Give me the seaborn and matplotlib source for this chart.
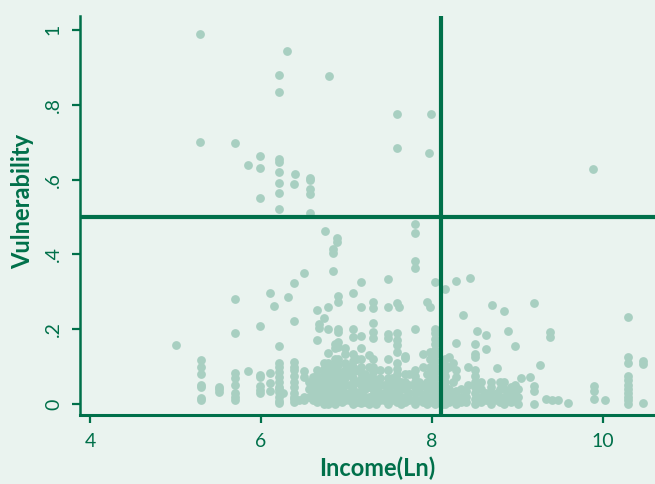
import matplotlib
matplotlib.use("Agg")
from matplotlib import pyplot
import seaborn
import pandas as pd

# scattered points (mostly the upper part of the cloud)
pt_income = [5.29, 6.30, 6.21, 6.21, 6.80, 7.59, 7.99, 7.59, 7.96, 5.29,
             5.70, 5.99, 5.85, 5.99, 6.21, 6.21, 6.40, 6.39, 6.21, 6.21,
             6.57, 6.57, 6.57, 6.57, 5.99, 6.21, 6.21, 6.57, 6.75, 6.89,
             6.89, 6.84, 6.84, 6.84, 6.50, 7.80, 7.80, 7.80, 7.80, 9.88,
             6.32, 6.11, 6.15, 5.70, 5.70, 5.99, 6.39, 6.39, 5.01, 8.44,
             8.28, 8.36, 8.53, 8.70, 8.84, 9.19, 8.89, 8.97, 9.26, 9.04,
             9.15, 7.61, 6.65, 6.68, 6.68, 6.74, 6.78, 7.17, 7.08, 7.94]
pt_vuln = [0.99, 0.944, 0.88, 0.834, 0.877, 0.775, 0.775, 0.684, 0.671, 0.70,
           0.698, 0.663, 0.639, 0.631, 0.655, 0.647, 0.615, 0.588, 0.62, 0.59,
           0.604, 0.599, 0.575, 0.561, 0.551, 0.564, 0.521, 0.51, 0.463, 0.444,
           0.433, 0.414, 0.404, 0.356, 0.35, 0.481, 0.457, 0.382, 0.364, 0.628,
           0.286, 0.297, 0.262, 0.281, 0.19, 0.209, 0.323, 0.222, 0.158, 0.337,
           0.329, 0.238, 0.195, 0.265, 0.249, 0.27, 0.195, 0.155, 0.104, 0.069,
           0.072, 0.259, 0.251, 0.214, 0.203, 0.23, 0.259, 0.326, 0.297, 0.273]

# vertical stacks of points at discrete income levels
col_income = [5.30, 5.51, 5.70, 5.85, 5.99, 6.11, 6.21, 6.26, 6.39, 6.45,
              6.50, 6.56, 6.61, 6.65, 6.68, 6.74, 6.78, 6.84, 6.87, 6.90,
              6.95, 6.98, 7.03, 7.08, 7.12, 7.17, 7.22, 7.26, 7.31, 7.35,
              7.39, 7.44, 7.49, 7.53, 7.59, 7.64, 7.68, 7.73, 7.80, 7.85,
              7.89, 7.94, 7.98, 8.03, 8.12, 8.15, 8.20, 8.25, 8.28, 8.34,
              8.40, 8.42, 8.50, 8.57, 8.63, 8.69, 8.76, 8.79, 8.84, 8.89,
              8.92, 8.97, 9.01, 9.19, 9.33, 9.38, 9.40, 9.47, 9.59, 9.89,
              10.02, 10.29, 10.47]
col_vuln = [
    [0.118, 0.099, 0.080, 0.051, 0.045, 0.016, 0.011],
    [0.045, 0.04, 0.032],
    [0.083, 0.07, 0.051, 0.029, 0.02, 0.011],
    [0.088],
    [0.078, 0.072, 0.048, 0.037, 0.029],
    [0.083, 0.056, 0.035],
    [0.155, 0.11, 0.1, 0.086, 0.072, 0.059, 0.045, 0.04, 0.032, 0.019, 0.008, 0.003],
    [0.029],
    [0.112, 0.1, 0.09, 0.075, 0.06, 0.045, 0.03, 0.02, 0.015, 0.005],
    [0.011],
    [0.088, 0.072, 0.02, 0.01],
    [0.06, 0.04, 0.02],
    [0.072, 0.05, 0.03, 0.01],
    [0.171, 0.09, 0.075, 0.058, 0.04, 0.022, 0.005],
    [0.06, 0.045, 0.03, 0.012],
    [0.11, 0.095, 0.08, 0.065, 0.048, 0.03, 0.014, 0.0],
    [0.2, 0.136, 0.11, 0.094, 0.078, 0.062, 0.046, 0.03, 0.014, 0.0],
    [0.098, 0.08, 0.06, 0.04, 0.02, 0.005],
    [0.16, 0.15, 0.12, 0.105, 0.09, 0.075, 0.06, 0.045, 0.03, 0.015, 0.0],
    [0.289, 0.273, 0.2, 0.193, 0.167, 0.154, 0.12, 0.104, 0.088, 0.072, 0.056, 0.04, 0.024, 0.008],
    [0.08, 0.06, 0.04, 0.02, 0.005],
    [0.15, 0.135, 0.11, 0.09, 0.07, 0.05, 0.03, 0.012],
    [0.1, 0.08, 0.05, 0.03, 0.01],
    [0.2, 0.18, 0.135, 0.115, 0.1, 0.085, 0.07, 0.055, 0.04, 0.025, 0.01, 0.0],
    [0.12, 0.09, 0.06, 0.03, 0.005],
    [0.259, 0.183, 0.15, 0.12, 0.1, 0.084, 0.068, 0.052, 0.036, 0.02, 0.004],
    [0.08, 0.06, 0.04, 0.02, 0.005],
    [0.13, 0.1, 0.07, 0.045, 0.02, 0.0],
    [0.273, 0.257, 0.217, 0.193, 0.176, 0.12, 0.1, 0.085, 0.07, 0.055, 0.04, 0.025, 0.01],
    [0.06, 0.04, 0.02, 0.0],
    [0.09, 0.07, 0.05, 0.03, 0.01],
    [0.05, 0.03, 0.01],
    [0.334, 0.259, 0.187, 0.176, 0.12, 0.09, 0.07, 0.055, 0.04, 0.025, 0.01, 0.0],
    [0.07, 0.05, 0.03, 0.012],
    [0.27, 0.19, 0.171, 0.158, 0.139, 0.11, 0.095, 0.08, 0.065, 0.05, 0.035, 0.02, 0.005],
    [0.06, 0.04, 0.02, 0.0],
    [0.128, 0.122, 0.08, 0.06, 0.04, 0.02, 0.005],
    [0.08, 0.05, 0.03, 0.01],
    [0.2, 0.09, 0.075, 0.06, 0.045, 0.03, 0.015, 0.0],
    [0.06, 0.035, 0.01],
    [0.134, 0.1, 0.05, 0.025, 0.005],
    [0.08, 0.06, 0.04, 0.02, 0.0],
    [0.259, 0.14, 0.12, 0.1, 0.08, 0.06, 0.04, 0.02, 0.005],
    [0.326, 0.2, 0.19, 0.175, 0.16, 0.145, 0.13, 0.115, 0.1, 0.085, 0.07, 0.055, 0.04, 0.025, 0.01, 0.0],
    [0.09, 0.07, 0.05, 0.03, 0.015, 0.0],
    [0.307, 0.12, 0.105, 0.09, 0.075, 0.06, 0.045, 0.03, 0.015, 0.0],
    [0.125, 0.1, 0.04, 0.02, 0.005],
    [0.11, 0.06, 0.03, 0.01],
    [0.163, 0.09, 0.072, 0.035, 0.015, 0.0],
    [0.04, 0.02, 0.005],
    [0.035, 0.02, 0.005],
    [0.1, 0.05],
    [0.16, 0.134, 0.126, 0.09, 0.075, 0.06, 0.045, 0.03, 0.015, 0.0],
    [0.06, 0.04, 0.02, 0.005],
    [0.185, 0.147, 0.03, 0.01],
    [0.06, 0.045, 0.03, 0.015, 0.0],
    [0.096, 0.03, 0.01],
    [0.06, 0.04, 0.02, 0.005],
    [0.06, 0.04, 0.02, 0.0],
    [0.03, 0.01],
    [0.045, 0.025, 0.005],
    [0.05, 0.03, 0.01],
    [0.04, 0.02, 0.0],
    [0.048, 0.035, 0.0],
    [0.015],
    [0.193, 0.179],
    [0.01],
    [0.01],
    [0.003],
    [0.048, 0.035, 0.013],
    [0.011],
    [0.233, 0.126, 0.109, 0.075, 0.065, 0.05, 0.04, 0.03, 0.02, 0.01, 0.0],
    [0.115, 0.107, 0.003],
]

income_cut = 8.1
vuln_cut = 0.5

y_ticks = [0, 0.2, 0.4, 0.6, 0.8, 1]
y_ticklabels = ["0", ".2", ".4", ".6", ".8", "1"]
x_ticks = [4, 6, 8, 10]

# build the table
xs = list(pt_income)
ys = list(pt_vuln)
for x, col in zip(col_income, col_vuln):
    for y in col:
        xs.append(x)
        ys.append(y)
df = pd.DataFrame({"income": xs, "vulnerability": ys})

green = "#00704a"
bg = "#eaf3ef"
dots = "#a8cfc1"

seaborn.set_style("ticks", {"axes.facecolor": bg, "figure.facecolor": bg})
pyplot.rcParams["font.family"] = ["Lato", "DejaVu Sans"]

fig = pyplot.figure(figsize=(6.55, 4.84), dpi=100)
ax = fig.add_axes([80 / 655, 69 / 484, 575 / 655, 399 / 484])

seaborn.scatterplot(data=df, x="income", y="vulnerability", ax=ax,
                    color=dots, s=40, linewidth=0, alpha=1, zorder=2)

ax.axvline(income_cut, color=green, linewidth=3, zorder=3)
ax.axhline(vuln_cut, color=green, linewidth=3, zorder=3)

ax.set_xlim(3.883, 10.608)
ax.set_ylim(-0.029, 1.037)
ax.set_xticks(x_ticks)
ax.set_yticks(y_ticks)
ax.set_yticklabels(y_ticklabels, rotation=90, va="center")

for side in ["top", "right"]:
    ax.spines[side].set_visible(False)
ax.spines["left"].set_color(green)
ax.spines["left"].set_linewidth(1.8)
ax.spines["bottom"].set_color(green)
ax.spines["bottom"].set_linewidth(2.2)

ax.tick_params(colors=green, labelcolor=green, length=6, width=1.6,
               labelsize=14, pad=7)

ax.set_xlabel("Income(Ln)", color=green, fontsize=17, fontweight="bold")
ax.set_ylabel("Vulnerability", color=green, fontsize=17, fontweight="bold")
ax.xaxis.set_label_coords(0.517, -0.133)
ax.xaxis.label.set_va("center")
ax.yaxis.set_label_coords(-0.10, 0.534)
ax.yaxis.label.set_va("center")

fig.savefig("out.png", dpi=100, facecolor=bg)
